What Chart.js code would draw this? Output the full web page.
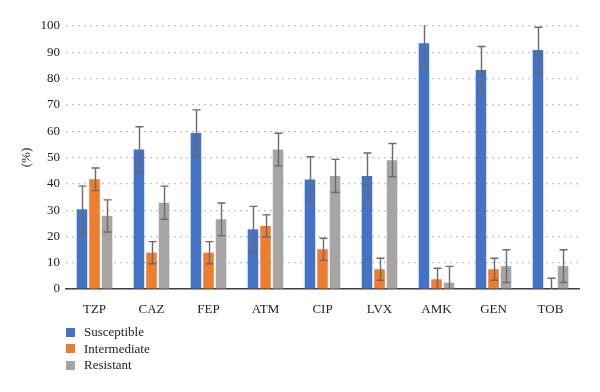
<!DOCTYPE html>
<html>
<head>
<meta charset="utf-8">
<script src="https://cdn.jsdelivr.net/npm/chart.js@4.4.1/dist/chart.umd.min.js"></script>
<style>
  html, body { margin: 0; padding: 0; background: #fff; }
  #wrap { position: relative; width: 600px; height: 392px; }
  #legend {
    position: absolute; left: 66px; top: 324px;
    font: 13px "Liberation Serif", serif; color: #222;
  }
  #legend .item { display: flex; align-items: center; height: 16.6px; }
  #legend .box { width: 9px; height: 9px; margin-right: 9px; }
</style>
</head>
<body>
<div id="wrap">
  <canvas id="chart" width="600" height="392"></canvas>
  <div id="legend"></div>
</div>
<script>
const categories = ['TZP', 'CAZ', 'FEP', 'ATM', 'CIP', 'LVX', 'AMK', 'GEN', 'TOB'];
const susceptible = [30.3, 53, 59.3, 22.7, 41.6, 43, 93.4, 83.3, 90.9];
const intermediate = [41.7, 13.8, 13.8, 24, 15.1, 7.5, 3.7, 7.5, 0];
const resistant = [27.8, 32.8, 26.5, 53, 43, 49, 2.4, 8.7, 8.7];
// symmetric error bar half-widths
const susceptibleErr = [8.8, 8.7, 8.8, 8.7, 8.7, 8.7, 8.9, 8.9, 8.6];
const intermediateErr = [4.3, 4.2, 4.2, 4.2, 4.2, 4.2, 4.2, 4.2, 4.1];
const resistantErr = [6.1, 6.3, 6.2, 6.2, 6.3, 6.3, 6.2, 6.2, 6.2];
const seriesLabels = ['Susceptible', 'Intermediate', 'Resistant'];
const seriesColors = ['#4472C4', '#ED7D31', '#A5A5A5'];
const yTicks = [0, 10, 20, 30, 40, 50, 60, 70, 80, 90, 100];

const errors = [susceptibleErr, intermediateErr, resistantErr];
const font = { family: '"Liberation Serif", serif', size: 13 };

// Draws the vertical whiskers with caps on top of each bar
const errorBarPlugin = {
  id: 'errorBars',
  afterDatasetsDraw(chart) {
    const { ctx, chartArea, scales: { y } } = chart;
    ctx.save();
    ctx.beginPath();
    ctx.rect(chartArea.left, chartArea.top - 1, chartArea.right - chartArea.left, chartArea.bottom - chartArea.top + 1);
    ctx.clip();
    ctx.strokeStyle = '#6b6b6b';
    ctx.lineWidth = 1.4;
    chart.data.datasets.forEach((ds, di) => {
      const meta = chart.getDatasetMeta(di);
      meta.data.forEach((bar, i) => {
        const v = ds.data[i];
        const e = errors[di][i];
        const top = y.getPixelForValue(v + e);
        const bot = y.getPixelForValue(v - e);
        const x = Math.round(bar.x) + 0.5;
        ctx.beginPath();
        ctx.moveTo(x, top);
        ctx.lineTo(x, bot);
        ctx.moveTo(x - 4, top);
        ctx.lineTo(x + 4, top);
        ctx.moveTo(x - 4, bot);
        ctx.lineTo(x + 4, bot);
        ctx.stroke();
      });
    });
    ctx.restore();
  }
};

const datasets = [susceptible, intermediate, resistant].map((data, i) => ({
  label: seriesLabels[i],
  data,
  backgroundColor: seriesColors[i],
  borderWidth: 0,
  barPercentage: 0.84,
  categoryPercentage: 0.66
}));

new Chart(document.getElementById('chart'), {
  type: 'bar',
  data: { labels: categories, datasets },
  options: {
    responsive: false,
    animation: false,
    layout: { padding: { left: 0, right: 21, top: 26, bottom: 0 } },
    plugins: {
      legend: { display: false },
      tooltip: { enabled: false }
    },
    scales: {
      x: {
        grid: { display: false },
        border: { display: true, color: '#404040', width: 1.5 },
        ticks: { color: '#222', font, padding: 5, maxRotation: 0 },
        afterFit(scale) { scale.height = 103; }
      },
      y: {
        min: 0,
        max: 100,
        afterBuildTicks(scale) { scale.ticks = yTicks.map(v => ({ value: v })); },
        grid: { color: '#c4c4c4', lineWidth: 1.2, drawTicks: false },
        border: { display: false, dash: [2, 4] },
        ticks: { color: '#222', font, padding: 6 },
        title: { display: true, text: '(%)', color: '#222', font, padding: { top: 19, bottom: 0 } },
        afterFit(scale) { scale.width = 66; }
      }
    }
  },
  plugins: [errorBarPlugin]
});

// HTML legend, stacked vertically under the axis
document.getElementById('legend').innerHTML = seriesLabels.map((l, i) =>
  `<div class="item"><span class="box" style="background:${seriesColors[i]}"></span>${l}</div>`
).join('');
</script>
</body>
</html>
